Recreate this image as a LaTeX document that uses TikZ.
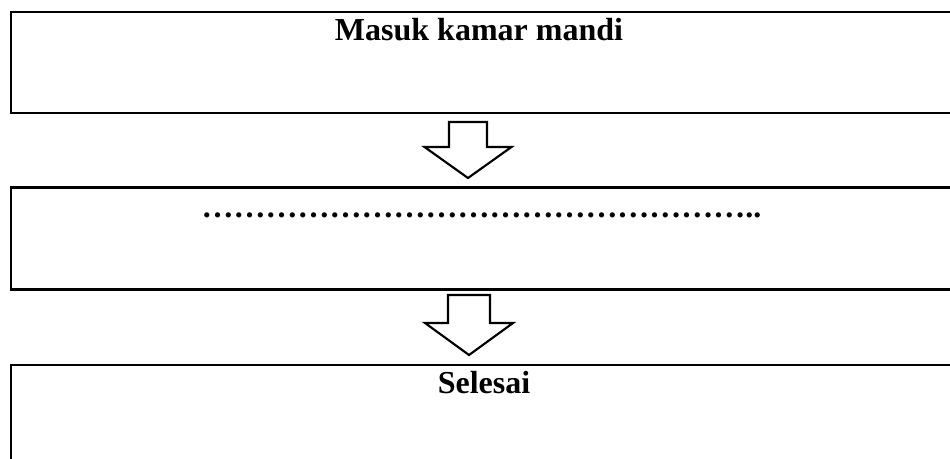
\documentclass[tikz,border=0pt]{standalone}
\usepackage{fontspec}
\setmainfont{Liberation Serif}
\begin{document}
\begin{tikzpicture}[x=0.75pt,y=-0.75pt,
  box/.style={draw, line width=1.8pt, rectangle, anchor=north west, inner sep=0pt, minimum width=707.25pt},
  lbl/.style={font=\fontsize{24}{28}\selectfont\bfseries, anchor=base, inner sep=0pt},
  blockarrow/.style={draw, line width=1.6pt, line join=miter, fill=white}]
\useasboundingbox (0,0) rectangle (950,459);
% boxes
\node[box, minimum height=75.75pt] (b1) at (10,11) {};
\node[box, minimum height=76.5pt] (b2) at (10,186.5) {};
\node[box, minimum height=83.25pt] (b3) at (10,364) {};
% labels
\node[lbl] (t1) at (479,41) {Masuk kamar mandi};
\node[lbl] (t2) at (481.5,218) {%
…%
…%
…%
…%
…%
…%
…%
…%
…%
…%
…%
…%
…%
…%
…%
…%
…%
..};
\node[lbl] (t3) at (484,394) {Selesai};
% block arrows
\coordinate (a1) at (468,122);
\coordinate (a2) at (469,295);
\draw[blockarrow] (a1) ++(-19,0) -- ++(38,0) -- ++(0,25) -- ++(24.5,0) -- ++(-43.5,31) -- ++(-43.5,-31) -- ++(24.5,0) -- cycle;
\draw[blockarrow] (a2) ++(-21,0) -- ++(42,0) -- ++(0,28) -- ++(23,0) -- ++(-44,32) -- ++(-44,-32) -- ++(23,0) -- cycle;
\end{tikzpicture}
\end{document}
